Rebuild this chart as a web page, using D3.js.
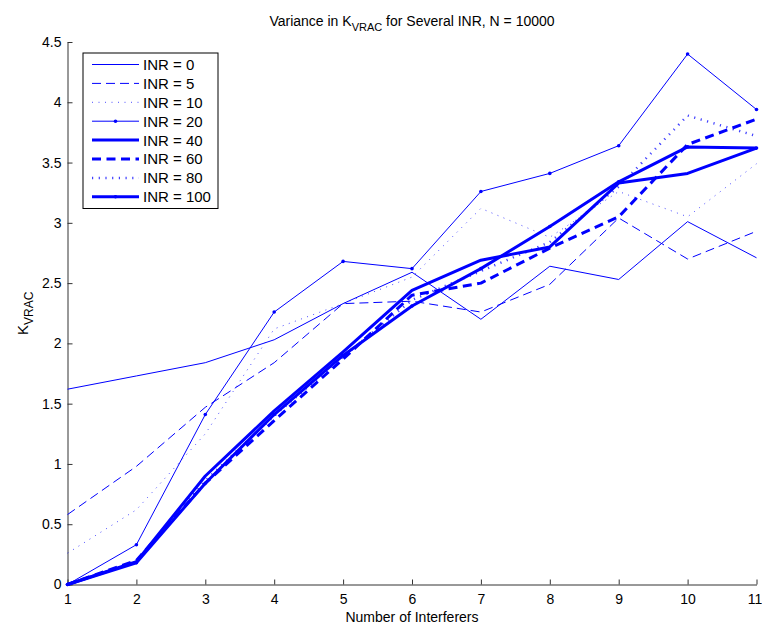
<!DOCTYPE html>
<html>
<head>
<meta charset="utf-8">
<script src="https://cdn.jsdelivr.net/npm/d3@7"></script>
<style>
  body { margin: 0; background: #fff; }
  svg { font-family: 'Liberation Sans', Arial, sans-serif; }
</style>
</head>
<body>
<svg id="chart" width="762" height="631"></svg>
<script>
// values, one array per INR curve
const interferers = [1, 2, 3, 4, 5, 6, 7, 8, 9, 10, 11];
const inr0   = [1.62, 1.73, 1.84, 2.03, 2.33, 2.59, 2.20, 2.64, 2.53, 3.01, 2.71];
const inr5   = [0.58, 0.98, 1.47, 1.84, 2.33, 2.35, 2.26, 2.49, 3.04, 2.70, 2.93];
const inr10  = [0.26, 0.62, 1.25, 2.12, 2.33, 2.55, 3.12, 2.88, 3.26, 3.05, 3.49];
const inr20  = [0, 0.33, 1.41, 2.26, 2.68, 2.62, 3.26, 3.41, 3.64, 4.40, 3.94];
const inr40  = [0, 0.19, 0.90, 1.44, 1.93, 2.44, 2.69, 2.80, 3.33, 3.41, 3.62];
const inr60  = [0, 0.20, 0.84, 1.36, 1.87, 2.40, 2.50, 2.79, 3.05, 3.65, 3.86];
const inr80  = [0, 0.19, 0.86, 1.40, 1.89, 2.36, 2.60, 2.84, 3.30, 3.89, 3.72];
const inr100 = [0, 0.18, 0.84, 1.41, 1.90, 2.31, 2.62, 2.97, 3.34, 3.63, 3.62];
const legendLabels = ['INR = 0', 'INR = 5', 'INR = 10', 'INR = 20', 'INR = 40', 'INR = 60', 'INR = 80', 'INR = 100'];
const xTicks = [1, 2, 3, 4, 5, 6, 7, 8, 9, 10, 11];
const yTicks = [0, 0.5, 1, 1.5, 2, 2.5, 3, 3.5, 4, 4.5];

const allSeries = [inr0, inr5, inr10, inr20, inr40, inr60, inr80, inr100];

// line look for each curve (same order as legendLabels)
const styles = [
    { w: 1,   dash: null,    dots: false },
    { w: 1,   dash: '9,5',   dots: false },
    { w: 1,   dash: '1,5.5', dots: false, op: 0.7 },
    { w: 1,   dash: null,    dots: true },
    { w: 3,   dash: null,    dots: false },
    { w: 3,   dash: '9,5.5', dots: false },
    { w: 2.5, dash: '1.2,5.5', dots: false, op: 0.75 },
    { w: 3,   dash: null,    dots: true }
];

const blue = '#0000ff';
const axisColor = '#333';
const margin = { top: 42, right: 5.5, bottom: 46.5, left: 67.5 };
const width = 762 - margin.left - margin.right;
const height = 631 - margin.top - margin.bottom;

const x = d3.scaleLinear().domain([1, 11]).range([0, width]);
const y = d3.scaleLinear().domain([0, 4.5]).range([height, 0]);

const svg = d3.select('#chart');
const g = svg.append('g').attr('transform', 'translate(' + margin.left + ',' + margin.top + ')');

// axes, ticks pointing inwards like matlab
const xAxis = g.append('g')
    .attr('transform', 'translate(0,' + height + ')')
    .call(d3.axisBottom(x).tickValues(xTicks).tickSizeInner(-5).tickSizeOuter(0).tickPadding(10));
const yAxis = g.append('g')
    .call(d3.axisLeft(y).tickValues(yTicks).tickSizeInner(-5).tickSizeOuter(0).tickPadding(6)
        .tickFormat(d3.format('')));

[xAxis, yAxis].forEach(function(a) {
    a.select('.domain').attr('stroke', axisColor);
    a.selectAll('.tick line').attr('stroke', axisColor);
    a.selectAll('.tick text').attr('fill', '#000').style('font-size', '14px');
});

// last label sits right at the page edge, pull it in a touch
xAxis.selectAll('.tick text').filter(function(d) { return d === 11; }).attr('dx', -2);

const line = d3.line()
    .x(function(d, i) { return x(interferers[i]); })
    .y(function(d) { return y(d); });

allSeries.forEach(function(vals, k) {
    const s = styles[k];
    g.append('path')
        .datum(vals)
        .attr('fill', 'none')
        .attr('stroke', blue)
        .attr('stroke-width', s.w)
        .attr('stroke-opacity', s.op || 1)
        .attr('stroke-dasharray', s.dash)
        .attr('stroke-linejoin', 'round')
        .attr('d', line);
    if (s.dots) {
        g.append('g').selectAll('circle')
            .data(vals)
            .enter().append('circle')
            .attr('cx', function(d, i) { return x(interferers[i]); })
            .attr('cy', function(d) { return y(d); })
            .attr('r', 1.8)
            .attr('fill', blue);
    }
});

// title with subscript
const title = svg.append('text')
    .attr('x', margin.left + width / 2)
    .attr('y', 26)
    .attr('text-anchor', 'middle')
    .style('font-size', '14px');
title.append('tspan').text('Variance in K');
title.append('tspan').attr('dy', 5).style('font-size', '11px').text('VRAC');
title.append('tspan').attr('dy', -5).text(' for Several INR, N = 10000');

svg.append('text')
    .attr('x', margin.left + width / 2)
    .attr('y', 622)
    .attr('text-anchor', 'middle')
    .style('font-size', '14px')
    .text('Number of Interferers');

const ylab = svg.append('text')
    .attr('transform', 'translate(28,' + (margin.top + height / 2) + ') rotate(-90)')
    .attr('text-anchor', 'middle')
    .style('font-size', '15px');
ylab.append('tspan').text('K');
ylab.append('tspan').attr('dy', 5).style('font-size', '12px').text('VRAC');

// legend box
const legend = svg.append('g').attr('transform', 'translate(83,53)');
legend.append('rect')
    .attr('width', 135)
    .attr('height', 155.5)
    .attr('fill', '#fff')
    .attr('stroke', '#000')
    .attr('stroke-width', 1);

const rowH = 18.9;
const rows = legend.selectAll('g.row')
    .data(legendLabels)
    .enter().append('g')
    .attr('class', 'row')
    .attr('transform', function(d, i) { return 'translate(0,' + (11.5 + i * rowH) + ')'; });

rows.append('line')
    .attr('x1', 9).attr('x2', 56)
    .attr('stroke', blue)
    .attr('stroke-width', function(d, i) { return styles[i].w; })
    .attr('stroke-opacity', function(d, i) { return styles[i].op || 1; })
    .attr('stroke-dasharray', function(d, i) { return styles[i].dash; });

rows.filter(function(d, i) { return styles[i].dots; })
    .append('circle')
    .attr('cx', 32.5).attr('r', 1.8).attr('fill', blue);

rows.append('text')
    .attr('x', 60)
    .attr('dy', '0.36em')
    .style('font-size', '15px')
    .text(function(d) { return d; });
</script>
</body>
</html>
